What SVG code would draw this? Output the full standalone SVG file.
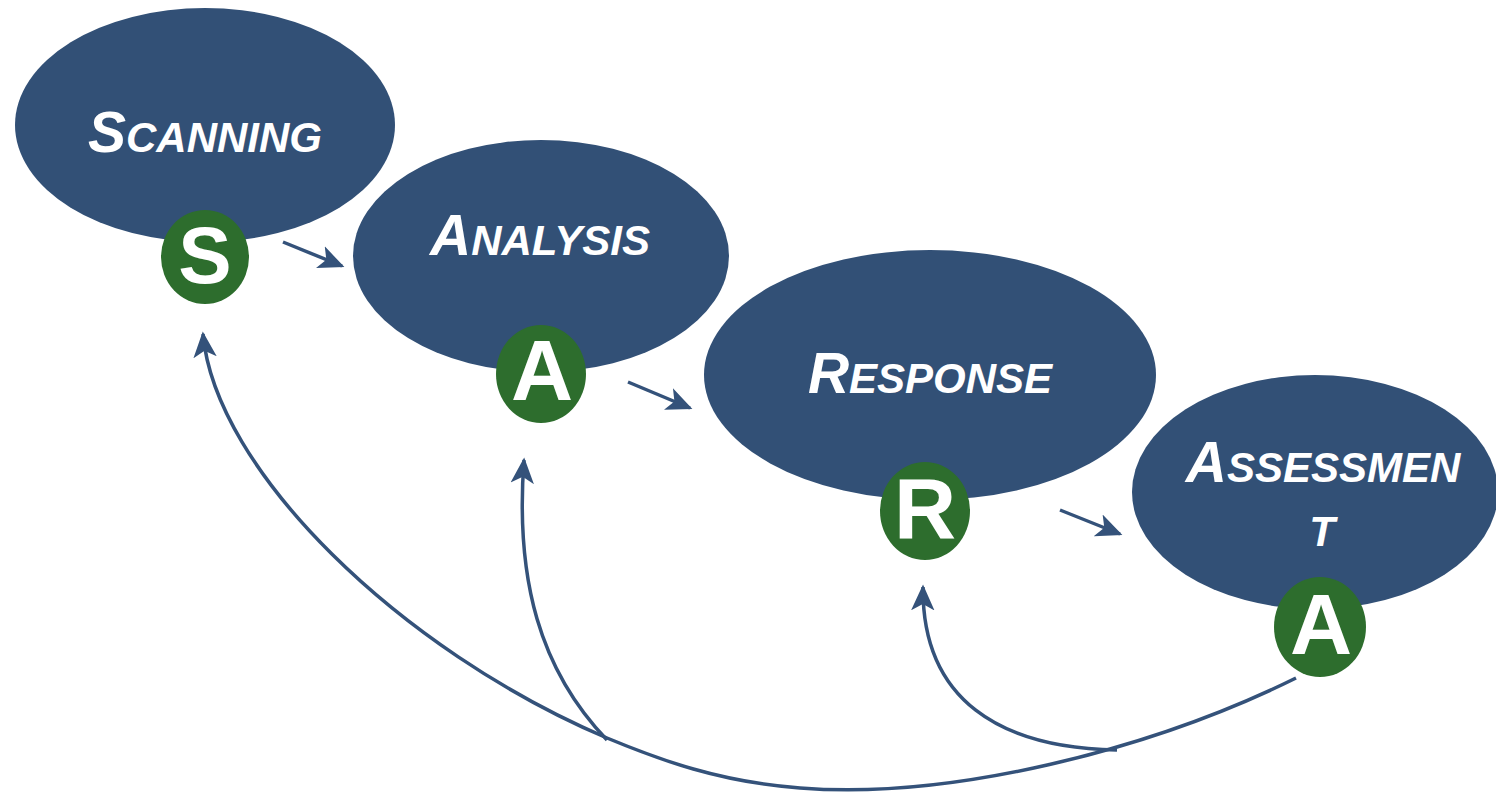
<svg xmlns="http://www.w3.org/2000/svg" width="1496" height="792" viewBox="0 0 1496 792">
<style>
.node{fill:#325076}
.badge{fill:#2d6d2d}
.lbl{font-family:"Liberation Sans",Arial,sans-serif;font-weight:bold;font-style:italic;fill:#fff;text-anchor:middle}
.big{font-size:57px}
.sm{font-size:42px}
.letter{font-family:"Liberation Sans",Arial,sans-serif;font-weight:bold;fill:#fff;text-anchor:middle}
.conn{fill:none;stroke:#34527a;stroke-width:3.5}
</style>
<defs>
<marker id="ah" markerUnits="userSpaceOnUse" markerWidth="26" markerHeight="26" viewBox="0 0 20 20" refX="18" refY="10" orient="auto">
<path d="M0,1 L20,10 L0,19 L5,10 z" fill="#34527a"/>
</marker>
</defs>
<g id="connectors">
<path class="conn" d="M283,242 L342,266" marker-end="url(#ah)"/>
<path class="conn" d="M628,382 L690,408" marker-end="url(#ah)"/>
<path class="conn" d="M1060,510 L1120,534" marker-end="url(#ah)"/>
<path class="conn" d="M1296,678 C1150,750 950,800 800,788 C720,782 660,760 607,738 C400,650 215,470 203,334" marker-end="url(#ah)"/>
<path class="conn" d="M607,740 C540,670 515,580 524,460" marker-end="url(#ah)"/>
<path class="conn" d="M1117,750 C1000,748 922,700 923,587" marker-end="url(#ah)"/>
</g>
<g id="scanning">
<ellipse class="node" cx="205" cy="125" rx="190" ry="117"/>
<text class="lbl" x="205" y="152"><tspan class="big">S</tspan><tspan class="sm">CANNING</tspan></text>
<ellipse class="badge" cx="205" cy="257" rx="44" ry="47"/>
<text class="letter" x="205" y="283" font-size="80">S</text>
</g>
<g id="analysis">
<ellipse class="node" cx="541" cy="256" rx="188" ry="116"/>
<text class="lbl" x="540" y="255"><tspan class="big">A</tspan><tspan class="sm">NALYSIS</tspan></text>
<ellipse class="badge" cx="541" cy="374" rx="45" ry="49"/>
<text class="letter" x="542" y="400" font-size="86">A</text>
</g>
<g id="response">
<ellipse class="node" cx="930" cy="375" rx="226" ry="125"/>
<text class="lbl" x="930" y="393"><tspan class="big">R</tspan><tspan class="sm">ESPONSE</tspan></text>
<ellipse class="badge" cx="925" cy="511" rx="45" ry="49"/>
<text class="letter" x="925" y="538" font-size="86">R</text>
</g>
<g id="assessment">
<ellipse class="node" cx="1315" cy="492" rx="183" ry="117"/>
<text class="lbl" x="1323" y="482"><tspan class="big">A</tspan><tspan class="sm">SSESSMEN</tspan></text>
<text class="lbl sm" x="1322" y="546">T</text>
<ellipse class="badge" cx="1320" cy="627" rx="46" ry="50"/>
<text class="letter" x="1321" y="654" font-size="86">A</text>
</g>
</svg>
